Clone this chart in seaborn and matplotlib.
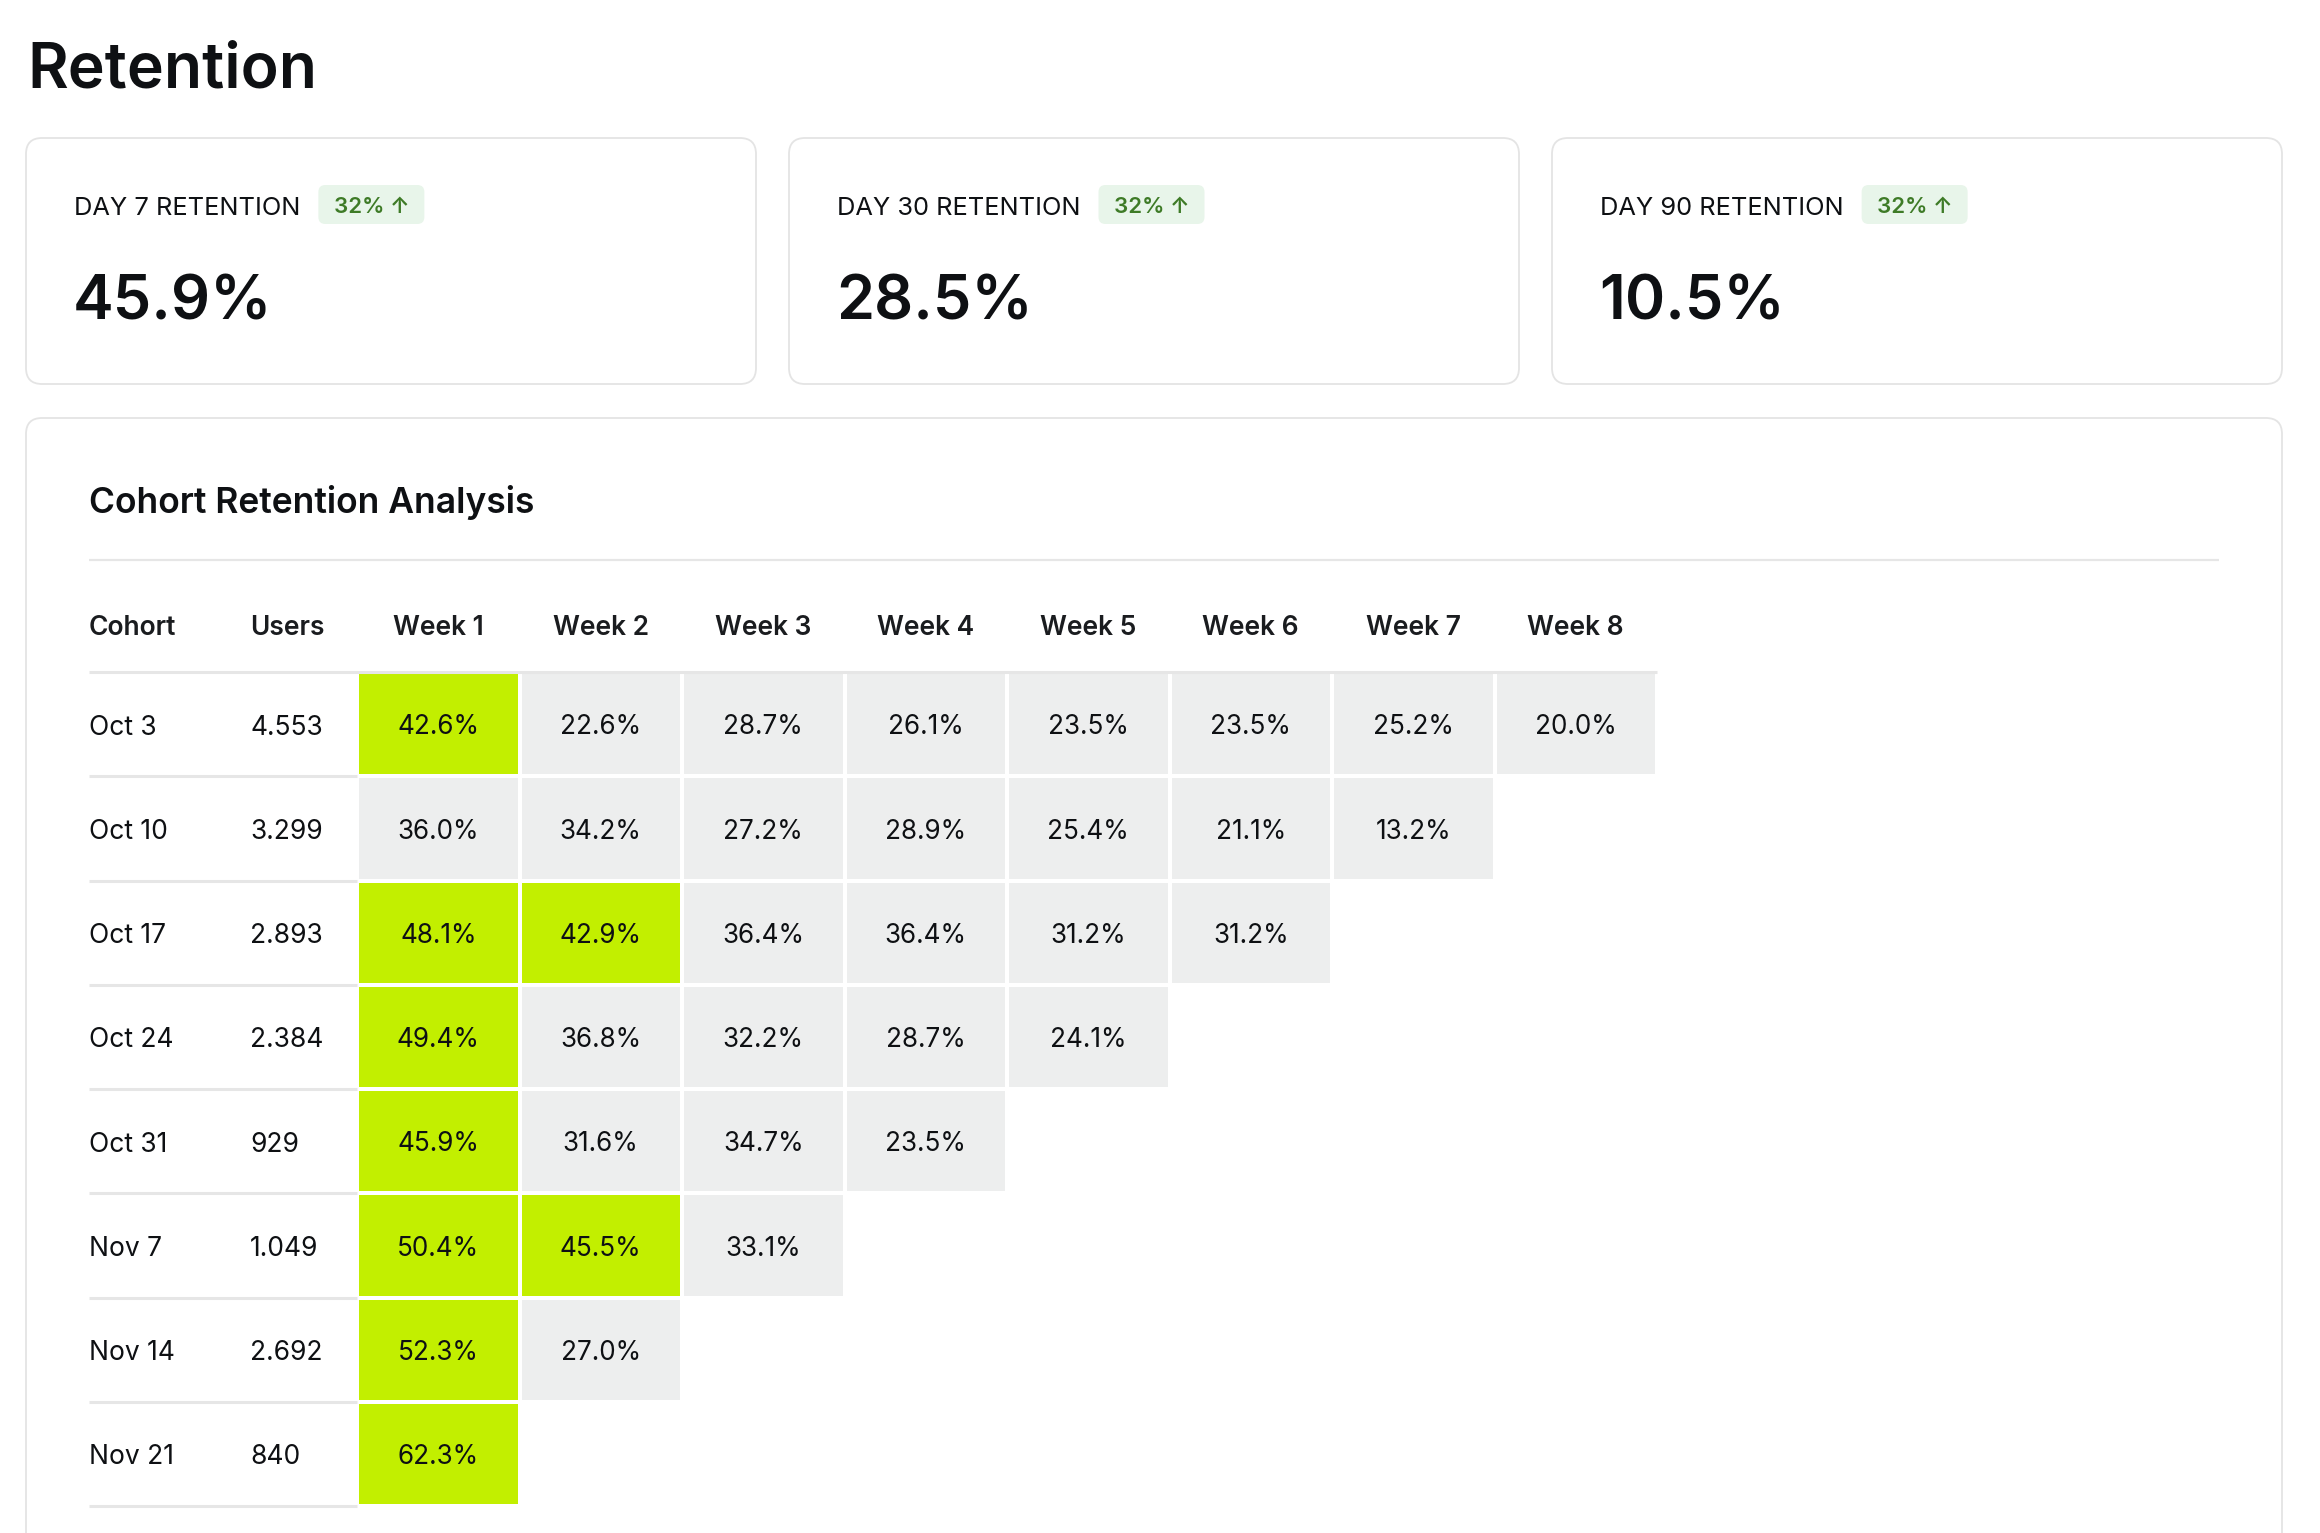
import matplotlib
matplotlib.use("Agg")
import matplotlib.pyplot as plt
from matplotlib.colors import ListedColormap, BoundaryNorm
from matplotlib.patches import FancyBboxPatch
import numpy as np
import pandas as pd
import seaborn as sns

sns.set_theme(style="white")
plt.rcParams["font.family"] = ["Inter", "DejaVu Sans"]

# data
kpi_labels = ["DAY 7 RETENTION", "DAY 30 RETENTION", "DAY 90 RETENTION"]
kpi_values = ["45.9%", "28.5%", "10.5%"]
kpi_changes = ["32%", "32%", "32%"]

cohorts = ["Oct 3", "Oct 10", "Oct 17", "Oct 24", "Oct 31", "Nov 7", "Nov 14", "Nov 21"]
users = ["4.553", "3.299", "2.893", "2.384", "929", "1.049", "2.692", "840"]
weeks = ["Week 1", "Week 2", "Week 3", "Week 4", "Week 5", "Week 6", "Week 7", "Week 8"]
retention = [
    [42.6, 22.6, 28.7, 26.1, 23.5, 23.5, 25.2, 20.0],
    [36.0, 34.2, 27.2, 28.9, 25.4, 21.1, 13.2],
    [48.1, 42.9, 36.4, 36.4, 31.2, 31.2],
    [49.4, 36.8, 32.2, 28.7, 24.1],
    [45.9, 31.6, 34.7, 23.5],
    [50.4, 45.5, 33.1],
    [52.3, 27.0],
    [62.3],
]
highlight_at = 40.0

INK = "#0E1013"
BORDER = "#E4E4E4"
GREEN = "#C2EF00"
GREY = "#EDEEEE"
LINE = "#E6E6E6"

W, H = 2320, 1533
fig = plt.figure(figsize=(W / 100, H / 100), dpi=100)
fig.patch.set_facecolor("white")

# background axes in pixel units for the cards
bg = fig.add_axes([0, 0, 1, 1])
bg.set_xlim(0, W)
bg.set_ylim(H, 0)
bg.axis("off")

bg.text(27, 88, "Retention", fontsize=45, fontweight="semibold", color=INK, va="baseline")

renderer = fig.canvas.get_renderer()
card_x = [26, 789, 1552]
card_w, card_top, card_h = 730, 138, 246
for x0, lab, val, chg in zip(card_x, kpi_labels, kpi_values, kpi_changes):
    bg.add_patch(FancyBboxPatch((x0, card_top), card_w, card_h,
                                boxstyle="round,pad=0,rounding_size=16",
                                fc="white", ec=BORDER, lw=1.3))
    t = bg.text(x0 + 48, 215, lab, fontsize=18.3, color=INK, va="baseline")
    ext = t.get_window_extent(renderer=renderer)
    bx = ext.x1 + 18
    bg.add_patch(FancyBboxPatch((bx, 185), 106, 39,
                                boxstyle="round,pad=0,rounding_size=7",
                                fc="#E8F5EA", ec="none"))
    bg.text(bx + 53, 213, chg + " \u2191", fontsize=16, fontweight="semibold",
            color="#3E7B27", ha="center", va="baseline")
    bg.text(x0 + 47, 320, val, fontsize=44, fontweight="semibold", color=INK, va="baseline")

# big panel, cut at the bottom edge
bg.add_patch(FancyBboxPatch((26, 418), 2256, 1300,
                            boxstyle="round,pad=0,rounding_size=16",
                            fc="white", ec=BORDER, lw=1.3))
bg.text(89, 513, "Cohort Retention Analysis", fontsize=25.5, fontweight="semibold",
        color=INK, va="baseline")
bg.plot([89, 2219], [560, 560], color=LINE, lw=1.6, solid_capstyle="butt")

# heatmap axes covering the week cells
x_left, x_right, y_top, y_bot = 357, 1657, 672, 1506
ax = fig.add_axes([x_left / W, 1 - y_bot / H, (x_right - x_left) / W, (y_bot - y_top) / H])

mat = np.full((len(cohorts), len(weeks)), np.nan)
for i, row in enumerate(retention):
    mat[i, :len(row)] = row
df = pd.DataFrame(mat, index=cohorts, columns=weeks)
labels = df.map(lambda v: "" if np.isnan(v) else f"{v:.1f}%")

cmap = ListedColormap([GREY, GREEN])
norm = BoundaryNorm([0, highlight_at, 100], cmap.N)
sns.heatmap(df, ax=ax, mask=df.isna(), cmap=cmap, norm=norm, cbar=False,
            annot=labels, fmt="", annot_kws={"fontsize": 18.8, "color": INK},
            linewidths=1.6, linecolor="white",
            xticklabels=False, yticklabels=False)
ax.set_xlabel("")
ax.set_ylabel("")
# nudge the cell labels onto the same line as the row labels
for t in ax.texts:
    x, y = t.get_position()
    t.set_y(y + 0.03)

col_w = (x_right - x_left) / len(weeks)
row_h = (y_bot - y_top) / len(cohorts)
cohort_x = (89 - x_left) / col_w
users_x = (250 - x_left) / col_w
head_y = (635 - y_top) / row_h

ax.text(cohort_x, head_y, "Cohort", fontsize=19, fontweight="semibold", color="#1A1C1F",
        va="baseline", clip_on=False)
ax.text(users_x, head_y, "Users", fontsize=19, fontweight="semibold", color="#1A1C1F",
        va="baseline", clip_on=False)
for j, wk in enumerate(weeks):
    ax.text(j + 0.5, head_y, wk, fontsize=19, fontweight="semibold", color="#1A1C1F",
            ha="center", va="baseline", clip_on=False)

ax.plot([cohort_x, len(weeks)], [0, 0], color=LINE, lw=2.2, clip_on=False,
        solid_capstyle="butt", zorder=5)
for i, (c, u) in enumerate(zip(cohorts, users)):
    ax.text(cohort_x, i + 0.6, c, fontsize=19, color=INK, va="baseline", clip_on=False)
    ax.text(users_x, i + 0.6, u, fontsize=19, color=INK, va="baseline", clip_on=False)
    ax.plot([cohort_x, 0], [i + 1, i + 1], color=LINE, lw=2.2, clip_on=False,
            solid_capstyle="butt")

fig.savefig("out.png", dpi=100, facecolor="white")
